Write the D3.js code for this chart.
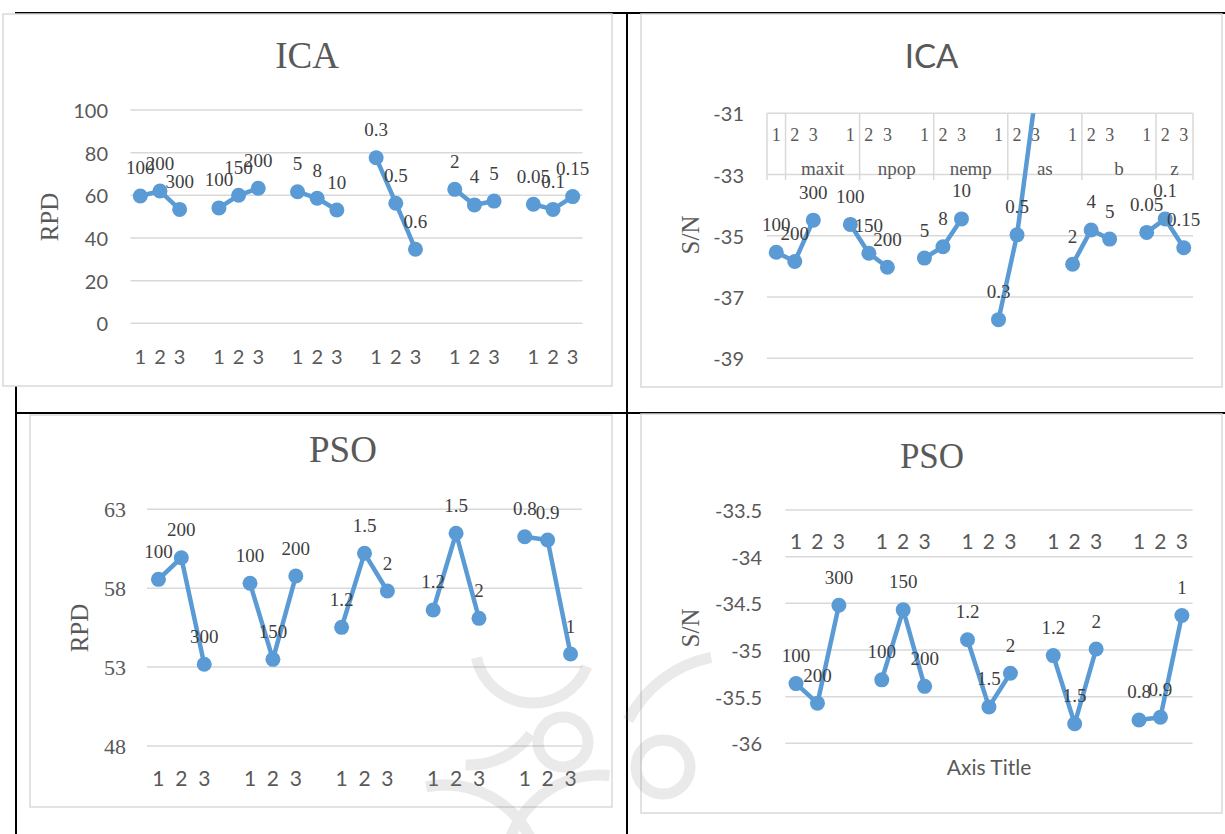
<!DOCTYPE html>
<html>
<head>
<meta charset="utf-8">
<script src="https://cdn.jsdelivr.net/npm/d3@7"></script>
<style>
  html, body { margin: 0; padding: 0; background: #fff; }
  svg { display: block; }
</style>
</head>
<body>
<div id="chart"></div>
<script>
// ---------------- DATA ----------------
const levelLabels = ["1", "2", "3"];

const icaGroups = ["maxit", "npop", "nemp", "as", "b", "z"];
const icaLevels = [
  ["100", "200", "300"],
  ["100", "150", "200"],
  ["5", "8", "10"],
  ["0.3", "0.5", "0.6"],
  ["2", "4", "5"],
  ["0.05", "0.1", "0.15"]
];
const icaRPD = [
  [59.7, 62.0, 53.4],
  [54.1, 60.0, 63.3],
  [61.7, 58.6, 53.1],
  [77.6, 56.3, 34.7],
  [62.8, 55.5, 57.3],
  [55.8, 53.4, 59.4]
];
const icaSN = [
  [-35.54, -35.84, -34.49],
  [-34.63, -35.57, -36.03],
  [-35.73, -35.36, -34.45],
  [-37.74, -34.97, -30.4],
  [-35.93, -34.81, -35.11],
  [-34.89, -34.45, -35.39]
];

const psoLevels = [
  ["100", "200", "300"],
  ["100", "150", "200"],
  ["1.2", "1.5", "2"],
  ["1.2", "1.5", "2"],
  ["0.8", "0.9", "1"]
];
const psoRPD = [
  [58.56, 59.93, 53.18],
  [58.31, 53.49, 58.77],
  [55.52, 60.21, 57.82],
  [56.62, 61.48, 56.09],
  [61.26, 61.05, 53.83]
];
const psoSN = [
  [-35.36, -35.57, -34.52],
  [-35.32, -34.57, -35.39],
  [-34.89, -35.61, -35.25],
  [-35.06, -35.79, -34.99],
  [-35.75, -35.72, -34.63]
];

const icaRpdTicks = [0, 20, 40, 60, 80, 100];
const icaSnTicks = [-39, -37, -35, -33, -31];
const psoRpdTicks = [48, 53, 58, 63];
const psoSnTicks = [-36, -35.5, -35, -34.5, -34, -33.5];

// ---------------- STYLE ----------------
const SANS = "Lato, 'Open Sans', sans-serif";
const SERIF = "'Liberation Serif', 'Times New Roman', serif";
const BLUE = "#5B9BD5";
const GRID = "#d9d9d9";
const TXT = "#595959";
const LBL = "#404040";

const W = 1225, H = 834;
const svg = d3.select("#chart").append("svg")
  .attr("width", W).attr("height", H)
  .attr("viewBox", `0 0 ${W} ${H}`);

svg.append("rect").attr("width", W).attr("height", H).attr("fill", "#fff");

// table lines of the document
const tbl = svg.append("g").attr("stroke", "#000").attr("stroke-width", 2);
tbl.append("line").attr("x1", 15).attr("x2", W).attr("y1", 13).attr("y2", 13);
tbl.append("line").attr("x1", 15).attr("x2", W).attr("y1", 413).attr("y2", 413);
tbl.append("line").attr("x1", 627).attr("x2", 627).attr("y1", 13).attr("y2", H);
tbl.append("line").attr("x1", 16).attr("x2", 16).attr("y1", 13).attr("y2", H);

let clipId = 0;

function drawPanel(cfg) {
  const g = svg.append("g");
  g.append("rect")
    .attr("x", cfg.box[0]).attr("y", cfg.box[1])
    .attr("width", cfg.box[2]).attr("height", cfg.box[3])
    .attr("fill", "#fff").attr("stroke", GRID).attr("stroke-width", 1.5);

  g.append("text")
    .attr("x", cfg.title.x).attr("y", cfg.title.y)
    .attr("text-anchor", "middle")
    .attr("font-family", cfg.title.font).attr("font-size", cfg.title.size)
    .attr("fill", TXT).text(cfg.title.text);

  const y = d3.scaleLinear().domain(cfg.yDomain).range([cfg.yRange[0], cfg.yRange[1]]);
  const nGroups = cfg.values.length;
  const slots = d3.range(nGroups * 4 - 1);
  const x = d3.scaleBand().domain(slots).range(cfg.xRange).padding(0);
  const cx = s => x(s) + x.bandwidth() / 2;

  g.append("g").selectAll("line").data(cfg.ticks).join("line")
    .attr("x1", cfg.xRange[0]).attr("x2", cfg.xRange[1])
    .attr("y1", d => y(d)).attr("y2", d => y(d))
    .attr("stroke", GRID).attr("stroke-width", 1.5);

  g.append("g").selectAll("text").data(cfg.ticks).join("text")
    .attr("x", cfg.tickRight).attr("y", d => y(d))
    .attr("text-anchor", "end").attr("dominant-baseline", "central")
    .attr("font-family", cfg.tickFont).attr("font-size", cfg.tickSize)
    .attr("fill", TXT).text(d => String(d));

  g.append("text")
    .attr("transform", `translate(${cfg.yTitle.x},${cfg.yTitle.y}) rotate(-90)`)
    .attr("text-anchor", "middle").attr("dominant-baseline", "central")
    .attr("font-family", SERIF).attr("font-size", 25)
    .attr("fill", TXT).text(cfg.yTitle.text);

  const catData = [];
  for (let gi = 0; gi < nGroups; gi++)
    for (let li = 0; li < 3; li++) catData.push({ slot: gi * 4 + li, t: levelLabels[li] });

  if (cfg.multiLevel) {
    const ml = cfg.multiLevel;
    const x0 = cfg.xRange[0], x1 = cfg.xRange[1];
    const divs = [x0, x(1)];
    for (let gi = 1; gi < nGroups; gi++) divs.push(x(gi * 4 + 1));
    divs.push(x1);
    g.append("g").selectAll("line").data(divs).join("line")
      .attr("x1", d => d).attr("x2", d => d)
      .attr("y1", ml.top).attr("y2", ml.bottom)
      .attr("stroke", GRID).attr("stroke-width", 1.5);
    const gd = cfg.groups.map((name, gi) => {
      const a = x(gi * 4 + 1);
      const b = gi === nGroups - 1 ? x1 : x(gi * 4 + 5);
      return { name, c: (a + b) / 2 };
    });
    g.append("g").selectAll("text").data(gd).join("text")
      .attr("x", d => d.c).attr("y", ml.groupY)
      .attr("text-anchor", "middle").attr("dominant-baseline", "central")
      .attr("font-family", SERIF).attr("font-size", 19)
      .attr("fill", TXT).text(d => d.name);
  }

  g.append("g").selectAll("text").data(catData).join("text")
    .attr("x", d => cx(d.slot)).attr("y", cfg.catY)
    .attr("text-anchor", "middle").attr("dominant-baseline", "central")
    .attr("font-family", cfg.catFont).attr("font-size", cfg.catSize)
    .attr("fill", TXT).text(d => d.t);

  if (cfg.xTitle) {
    g.append("text")
      .attr("x", cfg.xTitle.x).attr("y", cfg.xTitle.y)
      .attr("text-anchor", "middle").attr("dominant-baseline", "central")
      .attr("font-family", SANS).attr("font-size", 21)
      .attr("fill", TXT).text(cfg.xTitle.text);
  }

  const id = "clip" + (clipId++);
  const yTop = Math.min(cfg.yRange[0], cfg.yRange[1]);
  const yBot = Math.max(cfg.yRange[0], cfg.yRange[1]);
  svg.append("clipPath").attr("id", id).append("rect")
    .attr("x", cfg.xRange[0] - 12).attr("y", yTop)
    .attr("width", cfg.xRange[1] - cfg.xRange[0] + 24).attr("height", yBot - yTop + 12);

  const series = g.append("g").attr("clip-path", `url(#${id})`);
  const line = d3.line().x(d => cx(d.slot)).y(d => y(d.v));
  const pts = [];
  cfg.values.forEach((vals, gi) => {
    const gp = vals.map((v, li) => ({ slot: gi * 4 + li, v, lab: cfg.labels[gi][li] }));
    pts.push(...gp);
    series.append("path").datum(gp)
      .attr("d", line).attr("fill", "none")
      .attr("stroke", BLUE).attr("stroke-width", 4.5).attr("stroke-linejoin", "round");
  });
  series.selectAll("circle").data(pts).join("circle")
    .attr("cx", d => cx(d.slot)).attr("cy", d => y(d.v)).attr("r", 7.5)
    .attr("fill", BLUE);

  const inDom = d => d.v >= Math.min(...cfg.yDomain) && d.v <= Math.max(...cfg.yDomain);
  g.append("g").selectAll("text").data(pts.filter(inDom)).join("text")
    .attr("x", d => cx(d.slot)).attr("y", d => y(d.v) - 28)
    .attr("text-anchor", "middle").attr("dominant-baseline", "central")
    .attr("font-family", SERIF).attr("font-size", 19)
    .attr("fill", LBL).text(d => d.lab);
}

drawPanel({
  box: [3, 14, 609, 372],
  title: { text: "ICA", x: 307, y: 68, font: SERIF, size: 37 },
  xRange: [130.5, 582.5], yDomain: [0, 100], yRange: [323.3, 110],
  ticks: icaRpdTicks, tickRight: 108, tickFont: SANS, tickSize: 20,
  yTitle: { text: "RPD", x: 49, y: 217 },
  catY: 356, catFont: SANS, catSize: 20,
  values: icaRPD, labels: icaLevels
});

drawPanel({
  box: [641, 14, 581, 373],
  title: { text: "ICA", x: 931.5, y: 68, font: SANS, size: 33 },
  xRange: [767, 1193], yDomain: [-39, -31], yRange: [358.2, 113.3],
  ticks: icaSnTicks, tickRight: 744, tickFont: SANS, tickSize: 20,
  yTitle: { text: "S/N", x: 690, y: 235 },
  catY: 135, catFont: SERIF, catSize: 18,
  multiLevel: { top: 113.3, bottom: 180, groupY: 168 },
  groups: icaGroups,
  values: icaSN, labels: icaLevels
});

drawPanel({
  box: [30, 415, 582, 392],
  title: { text: "PSO", x: 343, y: 461.7, font: SERIF, size: 37 },
  xRange: [147, 582], yDomain: [48, 63], yRange: [746, 509.3],
  ticks: psoRpdTicks, tickRight: 126, tickFont: SERIF, tickSize: 22,
  yTitle: { text: "RPD", x: 79, y: 628 },
  catY: 777, catFont: SANS, catSize: 21,
  values: psoRPD, labels: psoLevels
});

drawPanel({
  box: [641, 414, 581, 399],
  title: { text: "PSO", x: 932, y: 468, font: SERIF, size: 35 },
  xRange: [785.3, 1192.6], yDomain: [-36, -33.5], yRange: [743.3, 510],
  ticks: psoSnTicks, tickRight: 762, tickFont: SANS, tickSize: 20,
  yTitle: { text: "S/N", x: 690.7, y: 628 },
  catY: 540, catFont: SANS, catSize: 21,
  xTitle: { text: "Axis Title", x: 989, y: 766 },
  values: psoSN, labels: psoLevels
});

// faint watermark ornament of the source document (a few soft arcs)
const wm = svg.append("g").attr("fill", "none").attr("stroke", "#808080")
  .attr("stroke-width", 11).attr("opacity", 0.16).attr("stroke-linecap", "round");
const arcGen = d3.arc();
const wmArcs = [
  { c: [533, 645], r: 58, a0: 1.95, a1: 4.49 },
  { c: [735, 775], r: 120, a0: -1.1, a1: -0.2 },
  { c: [470, 690], r: 75, a0: 2.2, a1: 3.2 },
  { c: [600, 870], r: 95, a0: -1.4, a1: 0.1 },
  { c: [445, 880], r: 95, a0: -0.2, a1: 1.2 }
];
wmArcs.forEach(a => {
  wm.append("path")
    .attr("transform", `translate(${a.c[0]},${a.c[1]})`)
    .attr("d", arcGen({ innerRadius: a.r, outerRadius: a.r, startAngle: a.a0, endAngle: a.a1 }));
});
[[563, 742, 25], [663, 767, 27]].forEach(c => {
  wm.append("circle").attr("cx", c[0]).attr("cy", c[1]).attr("r", c[2]);
});
</script>
</body>
</html>
